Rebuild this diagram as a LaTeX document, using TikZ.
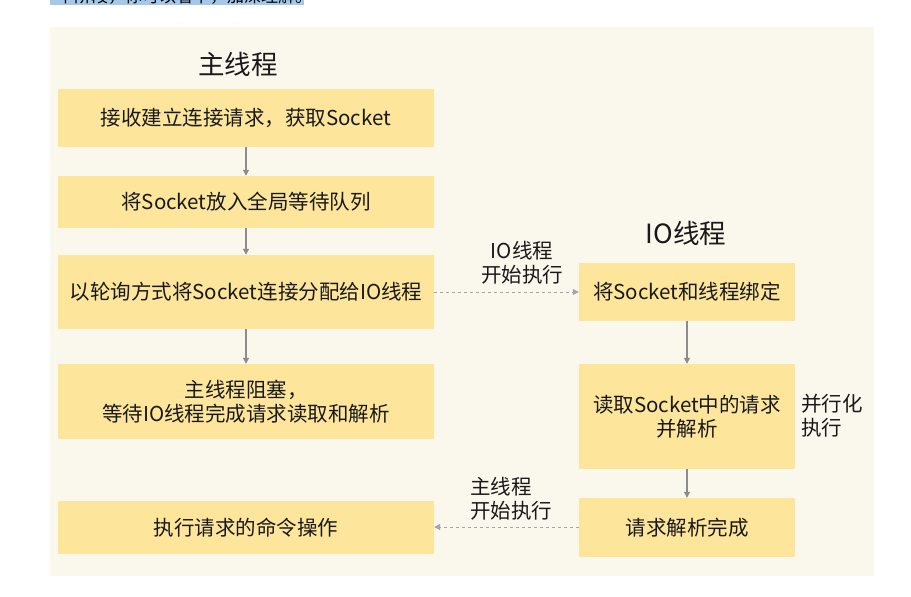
\documentclass[tikz,border=0pt]{standalone}
\usepackage{fontspec}
\setmainfont{Noto Sans CJK SC}
\usetikzlibrary{arrows.meta}
\definecolor{panelbg}{RGB}{250,247,236}
\definecolor{boxfill}{RGB}{253,229,156}
\definecolor{hlblue}{RGB}{166,200,230}
\definecolor{arrgray}{RGB}{140,140,140}
\definecolor{dashgray}{RGB}{165,165,165}
\tikzset{
  box/.style={rectangle, fill=boxfill, draw=none, inner sep=0pt, align=center,
    font=\fontsize{20.5}{24.5}\selectfont, text=black!90},
  title/.style={font=\fontsize{26.5}{30}\selectfont, text=black!90},
  lbl/.style={font=\fontsize{20.5}{24.5}\selectfont, text=black!90, inner sep=0pt},
  solidarr/.style={draw=arrgray, line width=1.1pt, -{Triangle[length=6pt,width=6pt]}},
  dasharr/.style={draw=dashgray, line width=1pt, dash pattern=on 3pt off 3pt, -{Triangle[length=6pt,width=6pt]}}
}
\begin{document}
\begin{tikzpicture}[x=1pt,y=-1pt]
\useasboundingbox (0,0) rectangle (911,597);
% cut-off highlighted text at top
\begin{scope}
  \clip (0,0) rectangle (911,5);
  \fill[hlblue] (50,0) rectangle (304,5);
  \node[anchor=base west, inner sep=0pt, font=\fontsize{17}{20}\selectfont] (toptext) at (57,2) {个阶段，你可以看下，加深理解。};
\end{scope}
% panel
\fill[panelbg] (50,27) rectangle (874,576);
% titles
\node[title] (t1) at (238,64) {主线程};
\node[title] (t2) at (686,233) {IO线程};
% left column
\node[box, minimum width=376pt, minimum height=58pt] (b1) at (246,118) {接收建立连接请求，获取Socket};
\node[box, minimum width=376pt, minimum height=52pt] (b2) at (246,202) {将Socket放入全局等待队列};
\node[box, minimum width=376pt, minimum height=74pt] (b3) at (246,292) {以轮询方式将Socket连接分配给IO线程};
\node[box, minimum width=376pt, minimum height=75pt] (b4) at (246,401.5) {主线程阻塞，\\等待IO线程完成请求读取和解析};
\node[box, minimum width=376pt, minimum height=53pt] (b5) at (246,527.5) {执行请求的命令操作};
% right column
\node[box, minimum width=216pt, minimum height=58pt] (r1) at (687,292) {将Socket和线程绑定};
\node[box, minimum width=216pt, minimum height=105pt] (r2) at (687,416.5) {读取Socket中的请求\\并解析};
\node[box, minimum width=216pt, minimum height=59pt] (r3) at (687,527.5) {请求解析完成};
% labels
\node[lbl, align=center] (l1) at (522,262.5) {IO线程\\开始执行};
\node[lbl, align=left, anchor=west] (l2) at (470,498.5) {主线程\\开始执行};
\node[lbl, align=left, anchor=west] (l3) at (801,415.5) {并行化\\执行};
% arrows
\draw[solidarr] (b1.south) -- (b2.north);
\draw[solidarr] (b2.south) -- (b3.north);
\draw[solidarr] (b3.south) -- (b4.north);
\draw[solidarr] (r1.south) -- (r2.north);
\draw[solidarr] (r2.south) -- (r3.north);
\draw[dasharr] (b3.east) -- (r1.west);
\draw[dasharr] (r3.west |- 0,527) -- (b5.east |- 0,527);
\end{tikzpicture}
\end{document}
